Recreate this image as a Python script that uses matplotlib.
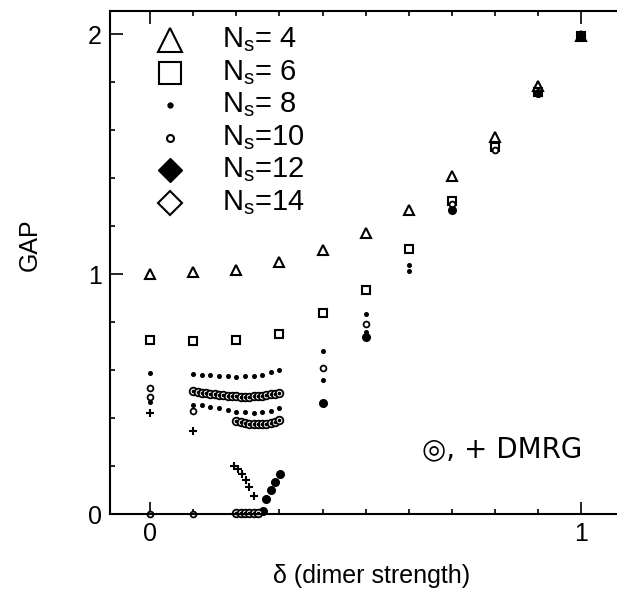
import matplotlib
matplotlib.use("Agg")
import matplotlib.pyplot as plt
from matplotlib.ticker import MultipleLocator

plt.rcParams['font.family'] = ['Liberation Sans', 'DejaVu Sans']

# exact diagonalisation, coarse grid
delta_coarse = [0.0, 0.1, 0.2, 0.3, 0.4, 0.5, 0.6, 0.7, 0.8, 0.9, 1.0]
gap_n4 = [1.00, 1.008, 1.017, 1.05, 1.10, 1.172, 1.267, 1.408, 1.572, 1.783, 1.99]
gap_n6 = [0.725, 0.722, 0.725, 0.749, 0.836, 0.933, 1.103, 1.305, 1.53, 1.76, 1.99]

# small dots (upper row)
delta_dots_a = [0.0, 0.10, 0.12, 0.14, 0.16, 0.18, 0.20, 0.22, 0.24, 0.26, 0.28, 0.30,
                0.4, 0.5, 0.6, 0.7, 0.8, 0.9, 1.0]
gap_dots_a = [0.589, 0.582, 0.579, 0.578, 0.576, 0.574, 0.572, 0.575, 0.575, 0.579, 0.590, 0.600,
              0.679, 0.833, 1.038, 1.28, 1.52, 1.76, 1.99]

# small dots (lower row)
delta_dots_b = [0.0, 0.10, 0.12, 0.14, 0.16, 0.18, 0.20, 0.22, 0.24, 0.26, 0.28, 0.30,
                0.4, 0.5, 0.6]
gap_dots_b = [0.465, 0.454, 0.454, 0.447, 0.440, 0.433, 0.426, 0.424, 0.422, 0.424, 0.429, 0.440,
              0.557, 0.76, 1.012]

# small open circles
delta_circ = [0.0, 0.0, 0.0, 0.1, 0.1, 0.4, 0.5, 0.7, 0.8]
gap_circ = [0.526, 0.487, 0.0, 0.429, 0.0, 0.608, 0.79, 1.29, 1.515]

# filled markers
delta_fill = [0.261, 0.269, 0.281, 0.29, 0.302, 0.4, 0.5, 0.7, 0.9, 1.0]
gap_fill = [0.0125, 0.0625, 0.10, 0.135, 0.165, 0.464, 0.739, 1.267, 1.755, 1.99]

# DMRG
delta_chain_a = [0.10, 0.11, 0.12, 0.13, 0.14, 0.15, 0.16, 0.17, 0.18, 0.19, 0.20,
                 0.21, 0.22, 0.23, 0.24, 0.25, 0.26, 0.27, 0.28, 0.29, 0.30]
gap_chain_a = [0.512, 0.509, 0.506, 0.503, 0.500, 0.498, 0.496, 0.494, 0.492, 0.491, 0.490,
               0.489, 0.489, 0.489, 0.490, 0.491, 0.493, 0.495, 0.498, 0.501, 0.505]
delta_chain_b = [0.20, 0.21, 0.22, 0.23, 0.24, 0.25, 0.26, 0.27, 0.28, 0.29, 0.30]
gap_chain_b = [0.386, 0.382, 0.379, 0.377, 0.375, 0.374, 0.374, 0.376, 0.379, 0.384, 0.392]
delta_chain_c = [0.20, 0.21, 0.22, 0.23, 0.24, 0.25]
gap_chain_c = [0.003, 0.003, 0.003, 0.003, 0.003, 0.004]
delta_plus = [0.0, 0.1, 0.195, 0.205, 0.213, 0.222, 0.23, 0.24]
gap_plus = [0.42, 0.346, 0.198, 0.186, 0.168, 0.142, 0.112, 0.075]

legend_labels = ['N$_\\mathregular{s}$= 4', 'N$_\\mathregular{s}$= 6', 'N$_\\mathregular{s}$= 8',
                 'N$_\\mathregular{s}$=10', 'N$_\\mathregular{s}$=12', 'N$_\\mathregular{s}$=14']

fig = plt.figure(figsize=(6.17, 5.95), dpi=100)
ax = fig.add_axes([110 / 617, 81 / 595, 507 / 617, 503 / 595])

kw = dict(ls='none', color='black', clip_on=False)
ax.plot(delta_coarse, gap_n4, marker='^', ms=7, mfc='white', mew=1.5, **kw)
ax.plot(delta_coarse, gap_n6, marker='s', ms=6, mfc='white', mew=1.5, **kw)
ax.plot(delta_dots_a, gap_dots_a, marker='o', ms=2.6, **kw)
ax.plot(delta_dots_b, gap_dots_b, marker='o', ms=2.6, **kw)
ax.plot(delta_circ, gap_circ, marker='o', ms=4.2, mfc='white', mew=1.3, **kw)
ax.plot(delta_fill, gap_fill, marker='o', ms=5.5, **kw)
for dx, gy in [(delta_chain_a, gap_chain_a), (delta_chain_b, gap_chain_b), (delta_chain_c, gap_chain_c)]:
    ax.plot(dx, gy, marker='o', ms=5.5, mfc='white', mew=1.3, **kw)
    ax.plot(dx, gy, marker='o', ms=1.6, **kw)
ax.plot(delta_plus, gap_plus, marker='+', ms=6, mew=1.5, **kw)

# legend drawn by hand
leg_marks = [dict(marker='^', ms=17, mfc='white', mew=1.5),
             dict(marker='s', ms=16, mfc='white', mew=1.5),
             dict(marker='o', ms=3.5),
             dict(marker='o', ms=5, mfc='white', mew=1.5),
             dict(marker='D', ms=12),
             dict(marker='D', ms=12, mfc='white', mew=1.5)]
for i, (lab, mk) in enumerate(zip(legend_labels, leg_marks)):
    ypx = 40 + i * 32.5
    yf = (514 - ypx) / 503
    ax.plot([(170 - 110) / 507], [yf], ls='none', color='black', transform=ax.transAxes, **mk)
    ax.text((222 - 110) / 507, yf, lab, transform=ax.transAxes, fontsize=21, va='center', ha='left')

ax.text((422 - 110) / 507, (514 - 449) / 503, '\u25ce, + DMRG', transform=ax.transAxes,
        fontsize=20, va='center', ha='left', family=['DejaVu Sans'])

ax.set_xlim(-0.093, 1.083)
ax.set_ylim(0, 2.096)
ax.spines['right'].set_visible(False)
for s in ['left', 'bottom', 'top']:
    ax.spines[s].set_linewidth(1.5)

ax.set_xticks([0, 1])
ax.set_xticklabels(['0', '1'])
ax.xaxis.set_minor_locator(MultipleLocator(0.1))
ax.set_yticks([0, 1, 2])
ax.set_yticklabels(['0', '1', '2'])
ax.yaxis.set_minor_locator(MultipleLocator(0.2))
ax.tick_params(which='both', direction='in', top=True, right=False, labelsize=18, width=1.2)
ax.tick_params(which='major', length=9, pad=6)
ax.tick_params(which='minor', length=3.5)

ax.set_xlabel('\u03b4 (dimer strength)', fontsize=18)
ax.xaxis.set_label_coords((372 - 110) / 507, -0.1)
ax.set_ylabel('GAP', fontsize=18)
ax.yaxis.set_label_coords(-0.135, 0.535)

fig.savefig('out.png', dpi=100)
